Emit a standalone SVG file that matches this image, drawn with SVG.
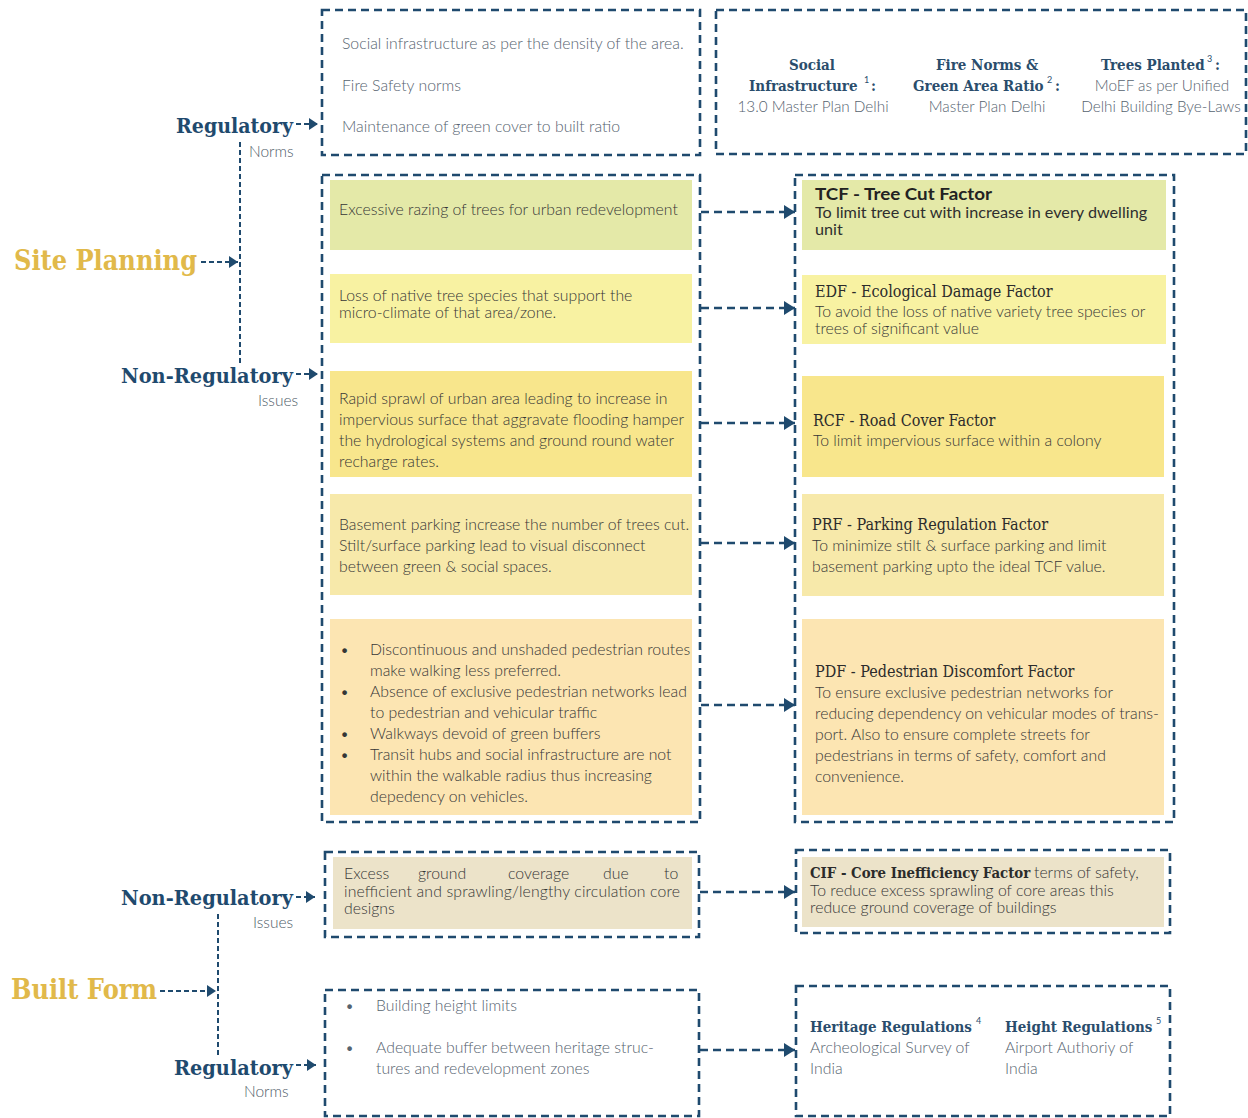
<svg xmlns="http://www.w3.org/2000/svg" width="1248" height="1118" viewBox="0 0 1248 1118">
<defs>
<marker id="ah" markerUnits="userSpaceOnUse" markerWidth="12" markerHeight="14" refX="11" refY="7" orient="auto">
<path d="M0,0 L11,7 L0,14 Z" fill="#1f4a6e"/>
</marker>
<marker id="ahs" markerUnits="userSpaceOnUse" markerWidth="10" markerHeight="12" refX="9" refY="6" orient="auto">
<path d="M0,0 L9,6 L0,12 Z" fill="#1f4a6e"/>
</marker>
<style>
.box{fill:none;stroke:#1f4a6e;stroke-width:2.6;stroke-dasharray:8 5}
.con{fill:none;stroke:#1f4a6e;stroke-width:2.6;stroke-dasharray:8 5}
.lcon{fill:none;stroke:#1f4a6e;stroke-width:2;stroke-dasharray:5 3}
.t{font-family:Lato,"Open Sans",sans-serif;font-weight:300;font-size:15.8px;fill:#363636}
.g{font-family:Lato,"Open Sans",sans-serif;font-weight:300;font-size:15.8px;fill:#56636f}
.gs{font-family:Lato,"Open Sans",sans-serif;font-weight:300;font-size:15.3px;fill:#56636f}
.tm{font-family:Lato,"Open Sans",sans-serif;font-weight:400;font-size:16.2px;fill:#2e2e2e}
.tb{font-family:Lato,"Open Sans",sans-serif;font-weight:700;font-size:17.5px;fill:#222}
.st{font-family:"DejaVu Serif Condensed","DejaVu Serif",serif;font-stretch:condensed;font-weight:400;font-size:16px;fill:#2b2b2b}
.stb{font-family:"DejaVu Serif Condensed","DejaVu Serif",serif;font-stretch:condensed;font-weight:700;font-size:14.8px;fill:#2b2b2b}
.sn{font-family:"DejaVu Serif Condensed","DejaVu Serif",serif;font-stretch:condensed;font-weight:700;font-size:15px;fill:#2a4d6c}
.sup{font-family:Lato,sans-serif;font-weight:400;font-size:9px;fill:#2a4d6c}
.lab{font-family:"DejaVu Serif",serif;font-weight:700;font-size:20px;fill:#1f4a6e}
.big{font-family:"DejaVu Serif",serif;font-weight:700;font-size:28px;fill:#e1b94a}
.sub{font-family:Lato,sans-serif;font-weight:300;font-size:15.5px;fill:#4f5d69}
</style>
</defs>
<rect width="1248" height="1118" fill="#ffffff"/>

<g id="left-labels">
<text class="lab" x="176" y="133" textLength="117" lengthAdjust="spacingAndGlyphs">Regulatory</text>
<text class="sub" x="249" y="157">Norms</text>
<text class="big" x="14" y="270" textLength="183" lengthAdjust="spacingAndGlyphs">Site Planning</text>
<text class="lab" x="121" y="383" textLength="172" lengthAdjust="spacingAndGlyphs">Non-Regulatory</text>
<text class="sub" x="258" y="406">Issues</text>
<text class="lab" x="121" y="905" textLength="172" lengthAdjust="spacingAndGlyphs">Non-Regulatory</text>
<text class="sub" x="253" y="928">Issues</text>
<text class="big" x="11" y="999" textLength="146" lengthAdjust="spacingAndGlyphs">Built Form</text>
<text class="lab" x="174" y="1075" textLength="119" lengthAdjust="spacingAndGlyphs">Regulatory</text>
<text class="sub" x="244" y="1097">Norms</text>
</g>

<g id="connectors">
<path class="lcon" d="M240,142 V363"/>
<path class="lcon" d="M296,124 H318" marker-end="url(#ahs)"/>
<path class="lcon" d="M201,262 H238" marker-end="url(#ahs)"/>
<path class="lcon" d="M296,374 H318" marker-end="url(#ahs)"/>
<path class="lcon" d="M218,914 V1057"/>
<path class="lcon" d="M296,897 H315" marker-end="url(#ahs)"/>
<path class="lcon" d="M160,991 H216" marker-end="url(#ahs)"/>
<path class="lcon" d="M296,1065 H316" marker-end="url(#ahs)"/>
<path class="con" d="M701,212 H795" marker-end="url(#ah)"/>
<path class="con" d="M701,308 H795" marker-end="url(#ah)"/>
<path class="con" d="M701,423 H795" marker-end="url(#ah)"/>
<path class="con" d="M701,543 H795" marker-end="url(#ah)"/>
<path class="con" d="M701,705 H795" marker-end="url(#ah)"/>
<path class="con" d="M700,892 H795" marker-end="url(#ah)"/>
<path class="con" d="M700,1050 H795" marker-end="url(#ah)"/>
</g>

<g id="norms-site">
<rect class="box" x="322" y="10" width="378" height="145"/>
<text class="g" x="342" y="49">Social infrastructure as per the density of the area.</text>
<text class="g" x="342" y="91">Fire Safety norms</text>
<text class="g" x="342" y="132">Maintenance of green cover to built ratio</text>
</g>

<g id="sources-site">
<rect class="box" x="716" y="10" width="530" height="144"/>
<text class="sn" x="812" y="70" text-anchor="middle">Social</text>
<text class="sn" x="749" y="91">Infrastructure</text>
<text class="sup" x="864" y="83">1</text>
<text class="sn" x="871" y="91">:</text>
<text class="gs" x="813" y="112" text-anchor="middle">13.0 Master Plan Delhi</text>
<text class="sn" x="936" y="70">Fire Norms &amp;</text>
<text class="sn" x="913" y="91">Green Area Ratio</text>
<text class="sup" x="1047" y="83">2</text>
<text class="sn" x="1055" y="91">:</text>
<text class="gs" x="987" y="112" text-anchor="middle">Master Plan Delhi</text>
<text class="sn" x="1101" y="70">Trees Planted</text>
<text class="sup" x="1207" y="62">3</text>
<text class="sn" x="1215" y="70">:</text>
<text class="gs" x="1162" y="91" text-anchor="middle">MoEF as per Unified</text>
<text class="gs" x="1161" y="112" text-anchor="middle">Delhi Building Bye-Laws</text>
</g>

<g id="issues-site">
<rect class="box" x="322" y="175" width="378" height="647"/>
<rect x="330" y="180" width="362" height="70" fill="#e4e9a8"/>
<text class="t" x="339" y="215">Excessive razing of trees for urban redevelopment</text>
<rect x="330" y="274" width="362" height="69" fill="#f8f2a2"/>
<text class="t" x="339" y="301">Loss of native tree species that support the</text>
<text class="t" x="339" y="318">micro-climate of that area/zone.</text>
<rect x="330" y="371" width="362" height="106" fill="#f8e68c"/>
<text class="t" x="339" y="404">Rapid sprawl of urban area leading to increase in</text>
<text class="t" x="339" y="425">impervious surface that aggravate flooding hamper</text>
<text class="t" x="339" y="446">the hydrological systems and ground round water</text>
<text class="t" x="339" y="467">recharge rates.</text>
<rect x="330" y="494" width="362" height="101" fill="#f7e9aa"/>
<text class="t" x="339" y="530">Basement parking increase the number of trees cut.</text>
<text class="t" x="339" y="551">Stilt/surface parking lead to visual disconnect</text>
<text class="t" x="339" y="572">between green &amp; social spaces.</text>
<rect x="330" y="619" width="362" height="196" fill="#fce5b2"/>
<text class="t" x="340" y="655">•</text>
<text class="t" x="370" y="655">Discontinuous and unshaded pedestrian routes</text>
<text class="t" x="370" y="676">make walking less preferred.</text>
<text class="t" x="340" y="697">•</text>
<text class="t" x="370" y="697">Absence of exclusive pedestrian networks lead</text>
<text class="t" x="370" y="718">to pedestrian and vehicular traffic</text>
<text class="t" x="340" y="739">•</text>
<text class="t" x="370" y="739">Walkways devoid of green buffers</text>
<text class="t" x="340" y="760">•</text>
<text class="t" x="370" y="760">Transit hubs and social infrastructure are not</text>
<text class="t" x="370" y="781">within the walkable radius thus increasing</text>
<text class="t" x="370" y="802">depedency on vehicles.</text>
</g>

<g id="factors-site">
<rect class="box" x="795" y="175" width="379" height="647"/>
<rect x="802" y="180" width="364" height="70" fill="#e4e9a8"/>
<text class="tb" x="815" y="200" textLength="177" lengthAdjust="spacingAndGlyphs">TCF - Tree Cut Factor</text>
<text class="tm" x="815" y="218">To limit tree cut with increase in every dwelling</text>
<text class="tm" x="815" y="235">unit</text>
<rect x="802" y="275" width="364" height="69" fill="#f8f2a2"/>
<text class="st" x="815" y="297">EDF - Ecological Damage Factor</text>
<text class="t" x="815" y="317">To avoid the loss of  native variety tree species or</text>
<text class="t" x="815" y="334">trees of significant value</text>
<rect x="802" y="376" width="362" height="101" fill="#f8e68c"/>
<text class="st" x="813" y="426">RCF - Road Cover Factor</text>
<text class="t" x="813" y="446">To limit impervious surface within a colony</text>
<rect x="802" y="494" width="362" height="102" fill="#f7e9aa"/>
<text class="st" x="812" y="530">PRF - Parking Regulation Factor</text>
<text class="t" x="812" y="551">To minimize stilt &amp; surface parking and limit</text>
<text class="t" x="812" y="572">basement parking upto the ideal TCF value.</text>
<rect x="802" y="619" width="362" height="196" fill="#fce5b2"/>
<text class="st" x="815" y="677">PDF - Pedestrian Discomfort Factor</text>
<text class="t" x="815" y="698">To ensure exclusive pedestrian networks for</text>
<text class="t" x="815" y="719">reducing dependency on vehicular modes of trans-</text>
<text class="t" x="815" y="740">port. Also to ensure complete streets for</text>
<text class="t" x="815" y="761">pedestrians in terms of safety, comfort and</text>
<text class="t" x="815" y="782">convenience.</text>
</g>

<g id="issues-built">
<rect class="box" x="325" y="852" width="374" height="85"/>
<rect x="333" y="857" width="359" height="72" fill="#ece3c9"/>
<text class="t" x="344" y="879">Excess</text>
<text class="t" x="418" y="879">ground</text>
<text class="t" x="508" y="879">coverage</text>
<text class="t" x="603" y="879">due</text>
<text class="t" x="664" y="879">to</text>
<text class="t" x="344" y="897" textLength="336" lengthAdjust="spacing">inefficient and sprawling/lengthy circulation core</text>
<text class="t" x="344" y="914">designs</text>
</g>

<g id="factor-built">
<rect class="box" x="796" y="850" width="374" height="83"/>
<rect x="802" y="857" width="362" height="70" fill="#ece3c9"/>
<text class="stb" x="810" y="878">CIF - Core Inefficiency Factor</text>
<text class="t" x="1034" y="878">terms of safety,</text>
<text class="t" x="810" y="896">To reduce excess sprawling of core areas this</text>
<text class="t" x="810" y="913">reduce ground coverage of buildings</text>
</g>

<g id="norms-built">
<rect class="box" x="325" y="990" width="374" height="126"/>
<text class="g" x="345" y="1011">•</text>
<text class="g" x="376" y="1011">Building height limits</text>
<text class="g" x="345" y="1053">•</text>
<text class="g" x="376" y="1053">Adequate buffer between heritage struc-</text>
<text class="g" x="376" y="1074">tures and redevelopment zones</text>
</g>

<g id="sources-built">
<rect class="box" x="796" y="986" width="374" height="130"/>
<text class="sn" x="810" y="1032">Heritage Regulations</text>
<text class="sup" x="976" y="1024">4</text>
<text class="g" x="810" y="1053">Archeological Survey of</text>
<text class="g" x="810" y="1074">India</text>
<text class="sn" x="1005" y="1032">Height Regulations</text>
<text class="sup" x="1156" y="1024">5</text>
<text class="g" x="1005" y="1053">Airport Authoriy of</text>
<text class="g" x="1005" y="1074">India</text>
</g>
</svg>
